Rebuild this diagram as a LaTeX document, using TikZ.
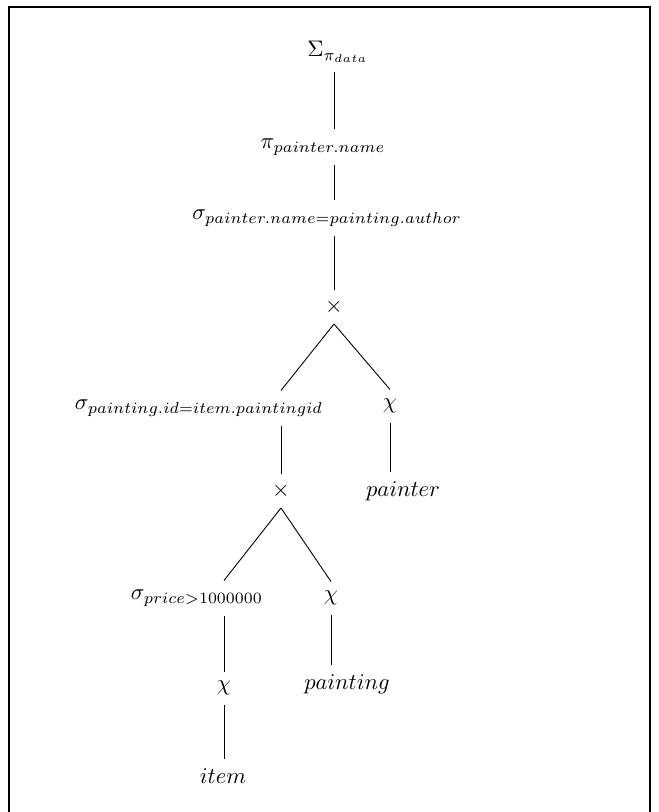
\documentclass[tikz,border=0pt]{standalone}
\usepackage{tikz}
\usetikzlibrary{calc}

\tikzset{op/.style={inner sep=4pt}}

\begin{document}
\begin{tikzpicture}[x=0.444pt,y=-0.444pt]
   \useasboundingbox (0,0) rectangle (659,812);

   % frame
   \draw[line width=0.9pt] (9,812) -- (9,7) -- (650,7) -- (650,812);

   % top of the tree
   \node[op] (sum)  at (338,52)  {$\Sigma_{\pi_{data}}$};
   \node[op] (proj) at (323,147) {$\pi_{painter.name}$};
   \node[op] (sel1) at (327,218) {$\sigma_{painter.name=painting.author}$};
   \node[op] (prod1) at (334,307) {$\times$};

   % left and right branch
   \node[op] (sel2) at (199,408) {$\sigma_{painting.id=item.paintingid}$};
   \node[op] (chi1) at (390,406) {$\chi$};
   \node[op] (prod2) at (281,491) {$\times$};
   \node[op] (painter) at (403,491) {$painter$};

   % bottom
   \node[op] (sel3) at (197,598) {$\sigma_{price>1000000}$};
   \node[op] (chi2) at (331,598) {$\chi$};
   \node[op] (chi3) at (224,688) {$\chi$};
   \node[op] (painting) at (347,684) {$painting$};
   \node[op] (item) at (223,776) {$item$};

   \draw (sum.south -| prod1) -- (proj.north -| prod1);
   \draw (proj.south -| prod1) -- (sel1.north -| prod1);
   \draw (sel1.south -| prod1) -- (prod1.north);
   \draw (prod1.south) -- (sel2.north -| prod2);
   \draw (prod1.south) -- (chi1.north);
   \draw (sel2.south -| prod2) -- (prod2.north);
   \draw (chi1.south) -- (painter.north -| chi1);
   \draw (prod2.south) -- (sel3.north -| chi3);
   \draw (prod2.south) -- (chi2.north);
   \draw (sel3.south -| chi3) -- (chi3.north);
   \draw (chi3.south) -- (item.north -| chi3);
   \draw (chi2.south) -- (painting.north -| chi2);
\end{tikzpicture}
\end{document}
